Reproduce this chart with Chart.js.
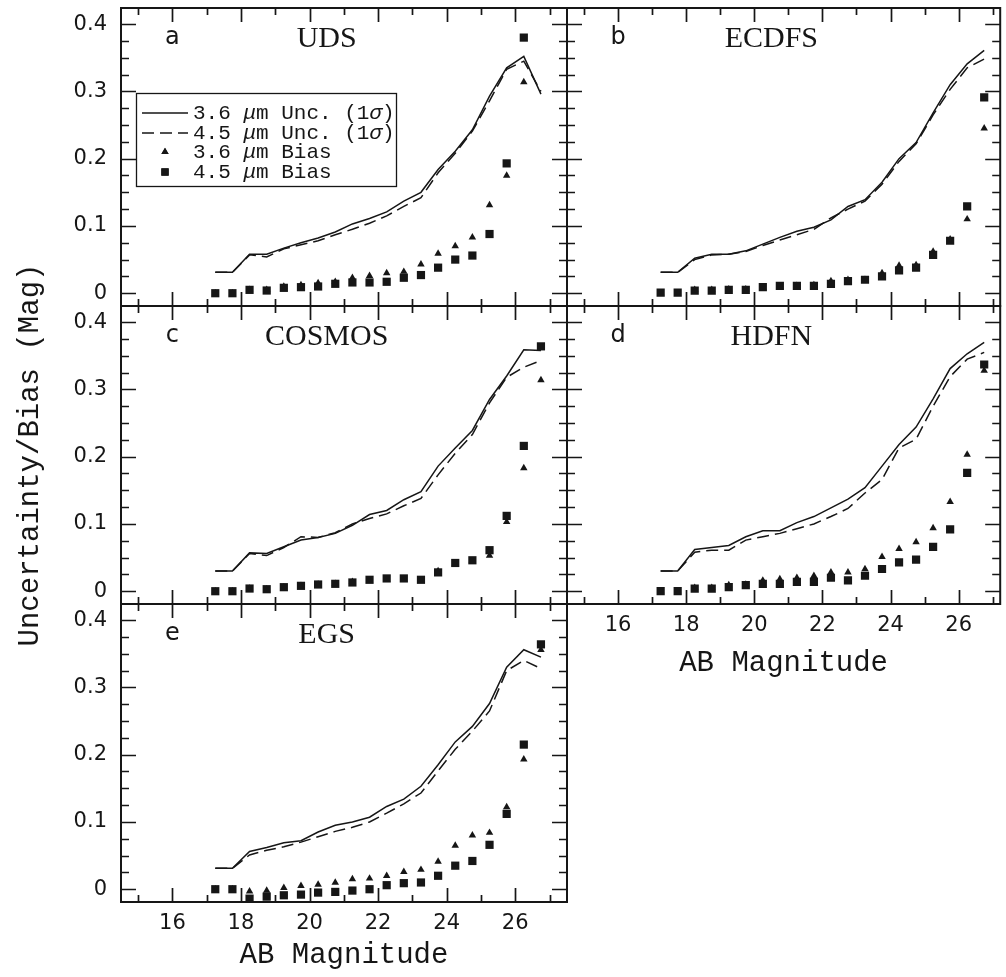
<!DOCTYPE html>
<html>
<head>
<meta charset="utf-8">
<script src="https://cdn.jsdelivr.net/npm/chart.js@4.4.1/dist/chart.umd.min.js"></script>
<style>
  body { margin: 0; background: #fff; }
  #wrap { position: relative; width: 1006px; height: 977px; }
  #wrap canvas { position: absolute; left: 0; top: 0; }
</style>
</head>
<body>
<div id="wrap">
  <canvas id="pa" width="1006" height="977"></canvas>
  <canvas id="pb" width="1006" height="977"></canvas>
  <canvas id="pc" width="1006" height="977"></canvas>
  <canvas id="pd" width="1006" height="977"></canvas>
  <canvas id="pe" width="1006" height="977"></canvas>
</div>
<script>
// AB magnitude bins (same for every field)
const mags = [17.25, 17.75, 18.25, 18.75, 19.25, 19.75, 20.25, 20.75, 21.25, 21.75,
              22.25, 22.75, 23.25, 23.75, 24.25, 24.75, 25.25, 25.75, 26.25, 26.75];

const fields = ['UDS', 'ECDFS', 'COSMOS', 'HDFN', 'EGS'];
const letters = ['a', 'b', 'c', 'd', 'e'];

// UDS
const udsUnc36  = [0.031, 0.031, 0.058, 0.058, 0.067, 0.075, 0.082, 0.091, 0.103, 0.111, 0.121, 0.137, 0.150, 0.184, 0.211, 0.243, 0.293, 0.335, 0.352, 0.296];
const udsUnc45  = [0.031, 0.031, 0.057, 0.054, 0.066, 0.072, 0.078, 0.087, 0.095, 0.104, 0.115, 0.129, 0.142, 0.179, 0.208, 0.241, 0.286, 0.333, 0.345, 0.300];
const udsBias36 = [0.000, 0.000, 0.005, 0.005, 0.010, 0.012, 0.015, 0.017, 0.023, 0.026, 0.030, 0.032, 0.043, 0.059, 0.070, 0.083, 0.131, 0.175, 0.314, null];
const udsBias45 = [0.000, 0.000, 0.005, 0.004, 0.008, 0.009, 0.010, 0.014, 0.016, 0.016, 0.017, 0.023, 0.027, 0.038, 0.050, 0.056, 0.088, 0.193, 0.380, null];

// ECDFS
const ecdfsUnc36  = [0.031, 0.031, 0.052, 0.058, 0.058, 0.063, 0.073, 0.083, 0.092, 0.098, 0.109, 0.129, 0.139, 0.165, 0.200, 0.224, 0.268, 0.310, 0.341, 0.361];
const ecdfsUnc45  = [0.031, 0.031, 0.050, 0.057, 0.058, 0.062, 0.071, 0.079, 0.087, 0.095, 0.112, 0.125, 0.137, 0.162, 0.196, 0.222, 0.265, 0.303, 0.335, 0.348];
const ecdfsBias36 = [0.000, 0.000, 0.005, 0.005, 0.006, 0.006, 0.008, 0.010, 0.011, 0.012, 0.018, 0.020, 0.020, 0.030, 0.041, 0.042, 0.062, 0.080, 0.110, 0.245];
const ecdfsBias45 = [0.001, 0.001, 0.004, 0.004, 0.005, 0.005, 0.009, 0.011, 0.011, 0.011, 0.014, 0.018, 0.020, 0.025, 0.034, 0.038, 0.057, 0.078, 0.129, 0.291];

// COSMOS
const cosmosUnc36  = [0.030, 0.030, 0.057, 0.056, 0.066, 0.076, 0.080, 0.086, 0.098, 0.114, 0.120, 0.136, 0.148, 0.186, 0.213, 0.239, 0.285, 0.320, 0.359, 0.358];
const cosmosUnc45  = [0.030, 0.030, 0.056, 0.053, 0.065, 0.081, 0.080, 0.087, 0.100, 0.108, 0.115, 0.127, 0.138, 0.173, 0.205, 0.233, 0.280, 0.318, 0.333, 0.343];
const cosmosBias36 = [0.000, 0.000, 0.004, 0.003, 0.006, 0.008, 0.010, 0.011, 0.014, 0.016, 0.017, 0.018, 0.016, 0.030, 0.041, 0.045, 0.053, 0.103, 0.183, 0.314];
const cosmosBias45 = [0.000, 0.000, 0.004, 0.003, 0.006, 0.008, 0.010, 0.011, 0.013, 0.017, 0.019, 0.019, 0.017, 0.028, 0.042, 0.046, 0.061, 0.112, 0.216, 0.364];

// HDFN
const hdfnUnc36  = [0.030, 0.030, 0.062, 0.065, 0.068, 0.081, 0.090, 0.090, 0.102, 0.111, 0.124, 0.137, 0.154, 0.186, 0.218, 0.244, 0.286, 0.331, 0.353, 0.370];
const hdfnUnc45  = [0.030, 0.030, 0.058, 0.061, 0.061, 0.076, 0.081, 0.086, 0.093, 0.100, 0.111, 0.123, 0.146, 0.166, 0.213, 0.226, 0.275, 0.319, 0.345, 0.355];
const hdfnBias36 = [0.000, 0.000, 0.005, 0.005, 0.009, 0.010, 0.016, 0.018, 0.020, 0.023, 0.028, 0.028, 0.033, 0.051, 0.063, 0.073, 0.094, 0.133, 0.203, 0.328];
const hdfnBias45 = [0.000, 0.000, 0.004, 0.004, 0.006, 0.009, 0.011, 0.011, 0.014, 0.014, 0.020, 0.016, 0.023, 0.033, 0.043, 0.047, 0.066, 0.092, 0.176, 0.337];

// EGS
const egsUnc36  = [0.031, 0.031, 0.056, 0.062, 0.069, 0.072, 0.085, 0.095, 0.100, 0.107, 0.123, 0.134, 0.153, 0.185, 0.219, 0.242, 0.276, 0.330, 0.356, 0.345];
const egsUnc45  = [0.031, 0.031, 0.051, 0.058, 0.063, 0.070, 0.078, 0.086, 0.092, 0.100, 0.113, 0.127, 0.143, 0.176, 0.208, 0.235, 0.265, 0.325, 0.340, 0.328];
const egsBias36 = [0.000, 0.000, -0.003, -0.002, 0.002, 0.005, 0.007, 0.010, 0.015, 0.016, 0.020, 0.026, 0.029, 0.041, 0.065, 0.080, 0.084, 0.122, 0.193, 0.356];
const egsBias45 = [0.000, 0.000, -0.014, -0.011, -0.009, -0.008, -0.005, -0.004, -0.002, 0.000, 0.006, 0.009, 0.010, 0.020, 0.035, 0.042, 0.066, 0.112, 0.215, 0.364];

const unc36  = [udsUnc36, ecdfsUnc36, cosmosUnc36, hdfnUnc36, egsUnc36];
const unc45  = [udsUnc45, ecdfsUnc45, cosmosUnc45, hdfnUnc45, egsUnc45];
const bias36 = [udsBias36, ecdfsBias36, cosmosBias36, hdfnBias36, egsBias36];
const bias45 = [udsBias45, ecdfsBias45, cosmosBias45, hdfnBias45, egsBias45];

const INK = '#161616';
const W = 1006, H = 977;
const MONO = '"Liberation Mono"';

// where each panel's plot box sits on the page
const panels = [
    {id: 'pa', L: 121, T: 8,   R: 567,  B: 306, xmax: 27.51, yLab: true,  xLab: false, legend: true},
    {id: 'pb', L: 567, T: 8,   R: 1004, B: 306, xmax: 27.22, yLab: false, xLab: false},
    {id: 'pc', L: 121, T: 306, R: 567,  B: 604, xmax: 27.51, yLab: true,  xLab: false, yTitle: true},
    {id: 'pd', L: 567, T: 306, R: 1004, B: 604, xmax: 27.22, yLab: false, xLab: true, xTitleY: 663},
    {id: 'pe', L: 121, T: 604, R: 567,  B: 902, xmax: 27.51, yLab: true,  xLab: true, xTitleY: 955},
];

function pts(arr) {
    return mags.map((m, i) => ({x: m, y: arr[i]}));
}

function isTenth(v) {
    return Math.abs(v * 10 - Math.round(v * 10)) < 1e-6;
}

// inward ticks on all four sides, frame, panel names and legend
const panelDeco = {
    id: 'panelDeco',
    afterDraw(chart, args, opts) {
        const ctx = chart.ctx;
        const {left, right, top, bottom} = chart.chartArea;
        const xs = chart.scales.x, ys = chart.scales.y;
        ctx.save();
        ctx.strokeStyle = INK;
        ctx.lineWidth = 1.7;
        ctx.beginPath();
        xs.ticks.forEach(t => {
            const px = Math.round(xs.getPixelForValue(t.value)) + 0.5;
            const len = t.value % 2 === 0 ? 14 : 7;
            ctx.moveTo(px, bottom); ctx.lineTo(px, bottom - len);
            ctx.moveTo(px, top); ctx.lineTo(px, top + len);
        });
        ys.ticks.forEach(t => {
            const py = Math.round(ys.getPixelForValue(t.value)) + 0.5;
            const len = isTenth(t.value) ? 15 : 8;
            ctx.moveTo(left, py); ctx.lineTo(left + len, py);
            ctx.moveTo(right, py); ctx.lineTo(right - len, py);
        });
        ctx.stroke();
        ctx.lineWidth = 2;
        ctx.strokeRect(left, top, right - left, bottom - top);

        ctx.fillStyle = INK;
        ctx.textBaseline = 'middle';
        ctx.textAlign = 'center';
        ctx.font = '24px "DejaVu Sans"';
        ctx.fillText(opts.letter, xs.getPixelForValue(16), ys.getPixelForValue(0.38));
        ctx.font = '30px "Liberation Serif"';
        ctx.fillText(opts.field, xs.getPixelForValue(20.5), ys.getPixelForValue(0.378));

        if (opts.legend) {
            const bx = left + 15, by = top + 85, bw = 260, bh = 93;
            ctx.fillStyle = '#fff';
            ctx.fillRect(bx, by, bw, bh);
            ctx.lineWidth = 1.3;
            ctx.strokeRect(bx + 0.5, by + 0.5, bw, bh);
            const rows = [
                ['3.6 ', 'Unc.', true, false],
                ['4.5 ', 'Unc.', true, true],
                ['3.6 ', 'Bias', false, 'triangle'],
                ['4.5 ', 'Bias', false, 'rect'],
            ];
            const rowY = [105, 125, 144, 164];
            rows.forEach((r, i) => {
                const y = top + rowY[i];
                ctx.strokeStyle = INK;
                ctx.fillStyle = INK;
                if (r[2]) {
                    ctx.lineWidth = 1.4;
                    ctx.setLineDash(r[3] ? [12, 6] : []);
                    ctx.beginPath();
                    ctx.moveTo(left + 21, y); ctx.lineTo(left + 67, y);
                    ctx.stroke();
                    ctx.setLineDash([]);
                } else {
                    Chart.helpers.drawPoint(ctx, {pointStyle: r[3], radius: r[3] === 'rect' ? 5.2 : 4.2, borderWidth: 0}, left + 44, y);
                    ctx.fill();
                }
                const segs = [[r[0], false], ['\u03bc', true], ['m ' + r[1], false]];
                if (r[2]) segs.push([' (1', false], ['\u03c3', true], [')', false]);
                let x = left + 72;
                ctx.textAlign = 'left';
                segs.forEach(s => {
                    ctx.font = (s[1] ? 'italic ' : '') + '21px ' + MONO;
                    ctx.fillText(s[0], x, y);
                    x += ctx.measureText(s[0]).width;
                });
            });
        }
        ctx.restore();
    }
};

const tickFont = {family: '"DejaVu Sans"', size: 21};
const titleFont = {family: MONO, size: 29};

function noPad(s) {
    s.paddingTop = 0; s.paddingBottom = 0; s.paddingLeft = 0; s.paddingRight = 0;
}

panels.forEach((p, k) => {
    const ctx = document.getElementById(p.id).getContext('2d');
    new Chart(ctx, {
        type: 'scatter',
        data: {
            datasets: [
                {data: pts(bias45[k]), pointStyle: 'rect', pointRadius: 5.8, backgroundColor: INK, borderWidth: 0, order: 1},
                {data: pts(bias36[k]), pointStyle: 'triangle', pointRadius: 4.3, backgroundColor: INK, borderWidth: 0, order: 2},
                {data: pts(unc45[k]), showLine: true, pointRadius: 0, borderColor: INK, borderWidth: 1.5, borderDash: [12, 6], order: 3},
                {data: pts(unc36[k]), showLine: true, pointRadius: 0, borderColor: INK, borderWidth: 1.5, order: 4},
            ]
        },
        options: {
            responsive: false,
            animation: false,
            events: [],
            layout: {padding: {top: p.T, right: W - p.R, left: 0, bottom: 0}},
            plugins: {
                legend: {display: false},
                tooltip: {enabled: false},
                panelDeco: {letter: letters[k], field: fields[k], legend: !!p.legend}
            },
            scales: {
                x: {
                    type: 'linear',
                    min: 14.5,
                    max: p.xmax,
                    grid: {display: false, drawTicks: false},
                    border: {display: false},
                    ticks: {
                        display: p.xLab,
                        stepSize: 1,
                        includeBounds: false,
                        autoSkip: false,
                        maxRotation: 0,
                        padding: 9,
                        color: INK,
                        font: tickFont,
                        callback: v => (v % 2 === 0 ? String(v) : '')
                    },
                    title: {
                        display: !!p.xTitleY,
                        text: 'AB Magnitude',
                        color: INK,
                        font: titleFont,
                        padding: {top: 0, bottom: p.xTitleY ? H - p.xTitleY - 17.4 : 0}
                    },
                    afterFit: s => { s.height = H - p.B; noPad(s); }
                },
                y: {
                    type: 'linear',
                    min: -0.019,
                    max: 0.424,
                    grid: {display: false, drawTicks: false},
                    border: {display: false},
                    ticks: {
                        display: p.yLab,
                        stepSize: 0.025,
                        includeBounds: false,
                        autoSkip: false,
                        padding: 14,
                        color: INK,
                        font: tickFont,
                        callback: v => (isTenth(v) ? (Math.abs(v) < 1e-9 ? '0' : v.toFixed(1)) : '')
                    },
                    title: {
                        display: !!p.yTitle,
                        text: 'Uncertainty/Bias (Mag)',
                        color: INK,
                        font: titleFont,
                        padding: {top: 12.6, bottom: 0}
                    },
                    afterFit: s => { s.width = p.L; noPad(s); }
                }
            }
        },
        plugins: [panelDeco]
    });
});
</script>
</body>
</html>
